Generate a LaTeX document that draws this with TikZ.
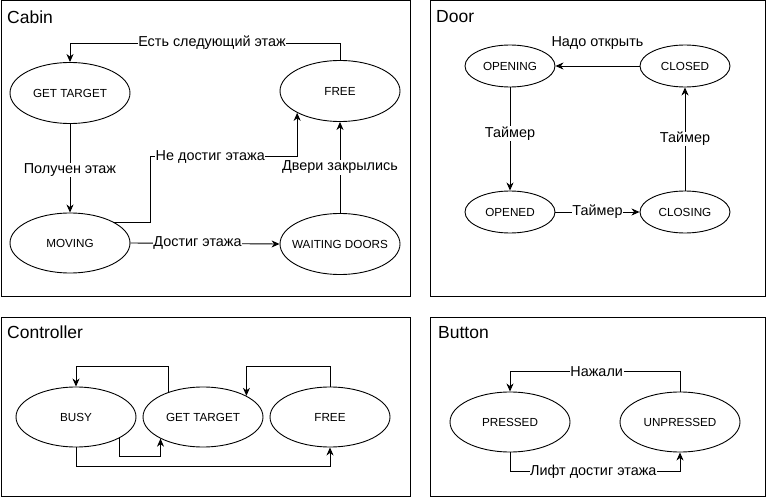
\documentclass[tikz,border=0pt]{standalone}
\usepackage{fontspec}
\setmainfont{Liberation Sans}
\usetikzlibrary{shapes.geometric,arrows.meta}
\begin{document}
\begin{tikzpicture}[x=1pt,y=-1pt,
  frame/.style={draw=black,line width=1pt},
  title/.style={anchor=west,inner sep=0pt,font=\fontsize{17.5}{20}\selectfont},
  state/.style={draw=black,line width=0.9pt,ellipse,inner sep=0pt,minimum width=120pt,minimum height=61pt,font=\fontsize{11.7}{13}\selectfont},
  dstate/.style={state,minimum width=90pt,minimum height=42pt},
  arr/.style={draw=black,line width=0.9pt,-{Stealth[length=8pt,width=7pt,inset=2.5pt]}},
  lbl/.style={fill=white,inner sep=0.6pt,font=\fontsize{14.4}{16}\selectfont}]
\useasboundingbox (0,0) rectangle (766,497);
\fill[white] (0,0) rectangle (766,497);
% frames
\draw[frame] (1,1) rectangle (410,296);
\draw[frame] (430,1) rectangle (765,296);
\draw[frame] (1,317) rectangle (410,496);
\draw[frame] (430,317) rectangle (765,496);
\node[title] (tcab) at (7,17) {Cabin};
\node[title] (tdoor) at (436,17) {Door};
\node[title] (tctl) at (7,332) {Controller};
\node[title] (tbtn) at (438,333) {Button};
% Cabin
\node[state] (gt) at (70,93) {GET TARGET};
\node[state] (free) at (340,91) {FREE};
\node[state,minimum height=60pt] (mov) at (70,243) {MOVING};
\node[state,inner xsep=-9pt] (wd) at (340,244) {WAITING DOORS};
\draw[arr] (free.north) -- ++(0,-17) -| node[lbl,pos=0.237] (l1) {Есть следующий этаж} (gt.north);
\draw[arr] (gt.south) -- node[lbl,pos=0.52] (l2) {Получен этаж} (mov.north);
\draw[arr] (mov.25) -- ++(36,0) -- ++(0,-65.5) -| node[lbl,pos=0.204] (l3) {Не достиг этажа} (free.207);
\draw[arr] (mov.east) -- node[lbl,pos=0.45] (l4) {Достиг этажа} (wd.west);
\draw[arr] (wd.north) -- node[lbl,pos=0.5] (l5) {Двери закрылись} (free.south);
% Door
\node[dstate] (op) at (510,66) {OPENING};
\node[dstate] (cd) at (685,66) {CLOSED};
\node[dstate] (od) at (510,212) {OPENED};
\node[dstate] (cg) at (685,212) {CLOSING};
\draw[arr] (cd.west) -- node[lbl,pos=0.5,yshift=23pt] (l6) {Надо открыть} (op.east);
\draw[arr] (op.south) -- node[lbl,pos=0.45] (l7) {Таймер} (od.north);
\draw[arr] (od.east) -- node[lbl,pos=0.5] (l8) {Таймер} (cg.west);
\draw[arr] (cg.north) -- node[lbl,pos=0.5] (l9) {Таймер} (cd.south);
% Controller
\node[state,minimum height=60pt] (busy) at (76,417) {BUSY};
\node[state,minimum height=60pt] (gt2) at (203,417) {GET TARGET};
\node[state,minimum height=60pt] (fr2) at (330,417) {FREE};
\draw[arr] (gt2.144) -- ++(0,-25.3) -| (busy.north);
\draw[arr] (fr2.north) -- ++(0,-20) -| (gt2.26);
\draw[arr] (busy.-26) -- ++(0,18) -| (gt2.207);
\draw[arr] (busy.south) -- ++(0,19) -| (fr2.south);
% Button
\node[state,minimum height=60pt] (pr) at (510,422) {PRESSED};
\node[state,minimum height=60pt] (un) at (680,422) {UNPRESSED};
\draw[arr] (un.north) -- ++(0,-20) -| node[lbl,pos=0.245] (l10) {Нажали} (pr.north);
\draw[arr] (pr.south) -- ++(0,19) -| node[lbl,pos=0.245] (l11) {Лифт достиг этажа} (un.south);
\end{tikzpicture}
\end{document}
